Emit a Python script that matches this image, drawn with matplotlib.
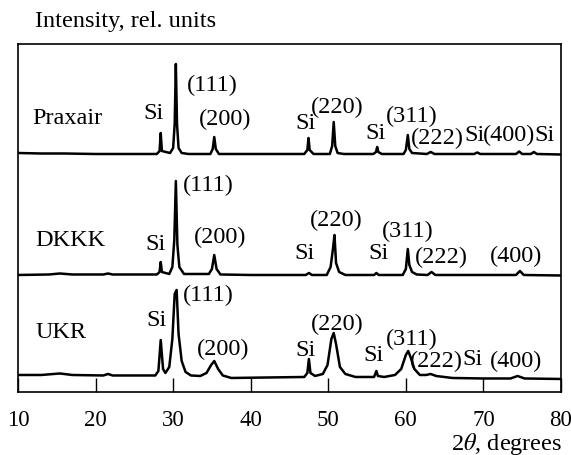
import matplotlib
matplotlib.use('Agg')
import matplotlib.pyplot as plt

plt.rcParams['font.family'] = ['Liberation Serif', 'DejaVu Serif']
plt.rcParams['mathtext.fontset'] = 'stix'

# 2theta (deg) / intensity above own baseline (rel. units)
praxair_x = [10, 13, 16, 20, 24, 27.9, 28.25, 28.4, 28.55, 29.6, 30.0, 30.2, 30.35, 30.5, 30.7, 31.1, 32,
             34.8, 35.1, 35.3, 35.5, 35.9, 40, 46.9, 47.3, 47.45, 47.6, 48.1, 50.2, 50.5, 50.7, 50.9, 51.2, 52,
             55.8, 56.15, 56.3, 56.45, 56.9, 59.7, 60.0, 60.25, 60.45, 60.8, 62.7, 63.2, 63.7,
             68.8, 69.2, 69.6, 74.2, 74.6, 75.0, 76.1, 76.5, 76.9, 80]
praxair_y = [1, 0.5, 0.5, 0, 0, 0, 3, 21, 3, 1, 6, 30, 90, 30, 6, 1, 0,
             0, 5, 17, 5, 0, 0, 0, 4, 16, 4, 0, 0, 8, 32, 8, 1, 0,
             0, 2, 7, 2, 0, 0, 4, 19, 5, 1, 0, 2, 0,
             0, 1.5, 0, 0, 2.5, 0, 0, 2, 0, -0.5]

dkkk_x = [10, 14, 15.4, 17, 21, 21.6, 22.2, 27.9, 28.25, 28.4, 28.55, 29.5, 29.9, 30.15, 30.35, 30.55, 30.8, 31.4,
          34.6, 35.0, 35.3, 35.6, 36.1, 40, 47.1, 47.5, 47.9, 49.8, 50.3, 50.6, 50.8, 51.0, 51.4, 52.2,
          55.9, 56.2, 56.5, 59.6, 60.0, 60.25, 60.45, 60.8, 61.4, 62.8, 63.3, 63.8, 74.2, 74.7, 75.2, 80]
dkkk_y = [0, 0.5, 1.5, 0.5, 0.5, 1.5, 0.5, 0.5, 3, 13, 3, 1, 8, 35, 94, 30, 8, 1,
          1, 6, 20, 6, 0.5, 0, 0, 2, 0, 0, 8, 26, 40, 12, 3, 0,
          0, 2, 0, 0, 6, 26, 10, 3, 0.5, 0, 3, 0, 0, 4, 0, -0.5]

ukr_x = [10, 13, 15.4, 17, 21, 21.6, 22.2, 27.7, 28.1, 28.4, 28.7, 29.0, 29.5, 29.9, 30.2, 30.45, 30.7, 31.1,
         31.6, 32.3, 33.5, 34.3, 34.9, 35.3, 35.8, 36.4, 37.5, 46.9, 47.3, 47.5, 47.7, 48.3, 49.3, 49.9,
         50.4, 50.7, 51.0, 51.5, 52.2, 53.5, 55.9, 56.2, 56.4, 57.2, 58.6, 59.4, 60.0, 60.3, 60.6, 61.1,
         61.8, 62.6, 63.2, 63.9, 66, 70, 73.5, 74.4, 75.3, 80]
ukr_y = [4, 4, 5.5, 4, 3.5, 5, 3.5, 3.5, 8, 39, 10, 6, 12, 40, 85, 89, 45, 18,
         7, 3.5, 3, 6, 14, 18, 10, 3.5, 1, 2, 6, 20, 6, 3, 5, 14,
         40, 46, 35, 12, 5, 2, 2, 8, 3, 2, 4, 10, 24, 28, 22, 10,
         4, 4, 5, 3, 1, 0.5, 0.5, 3, 0.5, 0]

offsets = {'Praxair': 238, 'DKKK': 117, 'UKR': 13}

# peak labels: (text, 2theta, height)
praxair_labels = [('Praxair', 16.3, 275), ('Si', 27.5, 280), ('(111)', 35.0, 308), ('(200)', 36.7, 274),
                  ('Si', 47.0, 270), ('(220)', 51.2, 286), ('Si', 56.1, 260), ('(311)', 60.7, 277),
                  ('(222)', 64.1, 255), ('Si', 68.8, 258), ('(400)', 73.3, 258), ('Si', 77.9, 258)]
dkkk_labels = [('DKKK', 16.8, 152), ('Si', 27.7, 148), ('(111)', 34.5, 208), ('(200)', 36.1, 156),
               ('Si', 46.9, 139), ('(220)', 51.0, 173), ('Si', 56.5, 139), ('(311)', 60.3, 162),
               ('(222)', 64.6, 136), ('(400)', 74.2, 137)]
ukr_labels = [('UKR', 15.5, 60), ('Si', 27.8, 72.5), ('(111)', 34.5, 98), ('(200)', 36.5, 43.5),
              ('Si', 47.0, 42), ('(220)', 51.2, 69), ('Si', 55.8, 37), ('(311)', 60.7, 54),
              ('(222)', 63.9, 32), ('Si', 68.6, 33.5), ('(400)', 74.2, 32)]

fig = plt.figure(figsize=(5.71, 4.56), dpi=100)
ax = fig.add_axes([0.0315, 0.1382, 0.951, 0.7631])

for name, xs, ys in [('Praxair', praxair_x, praxair_y), ('DKKK', dkkk_x, dkkk_y), ('UKR', ukr_x, ukr_y)]:
    ax.plot(xs, [v + offsets[name] for v in ys], color='black', lw=1.8)

for labs in [praxair_labels, dkkk_labels, ukr_labels]:
    for t, x, y in labs:
        ax.text(x, y, t, ha='center', va='center', fontsize=17.5)

ax.set_xlim(10, 80)
ax.set_ylim(0, 348)
ax.set_xticks([10, 20, 30, 40, 50, 60, 70, 80])
ax.tick_params(axis='x', direction='in', length=10, width=1, labelsize=16.5, pad=12)
ax.set_yticks([])
for s in ax.spines.values():
    s.set_linewidth(1.2)

fig.text(35 / 571, 1 - 22 / 456, 'Intensity, rel. units', ha='left', va='center', fontsize=17.5)
fig.text(562 / 571, 1 - 444 / 456, r'2$\theta$, degrees', ha='right', va='center', fontsize=17.5)

fig.savefig('out.png', dpi=100)
